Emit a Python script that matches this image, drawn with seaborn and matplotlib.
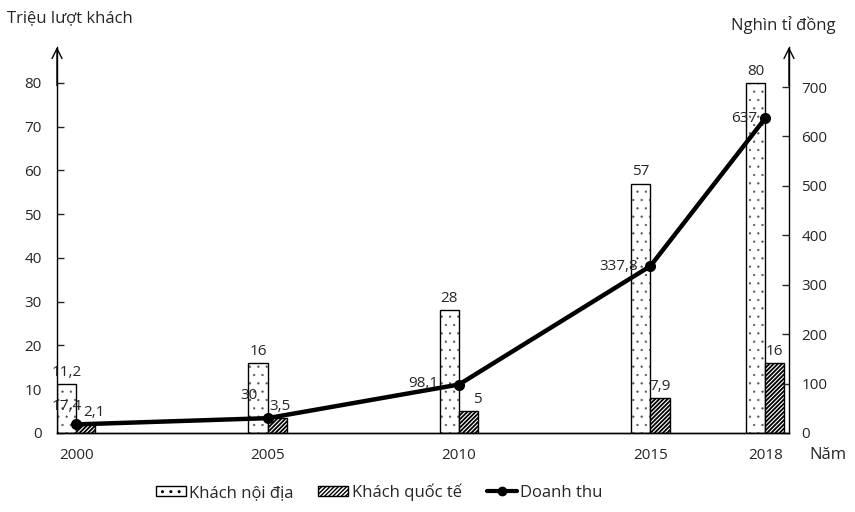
import numpy as np
import pandas as pd
import seaborn as sns
import matplotlib
matplotlib.use('Agg')
import matplotlib.pyplot as plt
from matplotlib.patches import Patch
from matplotlib.lines import Line2D

# data
years = [2000, 2005, 2010, 2015, 2018]
khach_noi_dia = [11.2, 16, 28, 57, 80]        # trieu luot khach
khach_quoc_te = [2.1, 3.5, 5, 7.9, 16]        # trieu luot khach
doanh_thu = [17.4, 30, 98.1, 337.8, 637]       # nghin ti dong

noi_dia_labels = ['11,2', '16', '28', '57', '80']
quoc_te_labels = ['2,1', '3,5', '5', '7,9', '16']
doanh_thu_labels = ['17,4', '30', '98,1', '337,8', '637']

sns.set_style('white')
plt.rcParams['font.family'] = ['Open Sans', 'DejaVu Sans']

fig = plt.figure(figsize=(8.55, 5.12), dpi=100)
ax = fig.add_axes([57/855, 1 - 433/512, (789-57)/855, (433-47)/512])
ax2 = ax.twinx()

w = 0.5
x = np.array(years)
# dotted bars: grey dots first, black outline on top
with plt.rc_context({'hatch.linewidth': 0.4}):
    ax.bar(x - w/2, khach_noi_dia, width=w, color='white', edgecolor='#555555',
           hatch='..', linewidth=0, zorder=2)
ax.bar(x - w/2, khach_noi_dia, width=w, fill=False, edgecolor='black',
       linewidth=1.0, zorder=2)
with plt.rc_context({'hatch.linewidth': 1.3}):
    ax.bar(x + w/2, khach_quoc_te, width=w, color='white', edgecolor='black',
           hatch='////////', linewidth=1.0, zorder=2)

for xi, v, s in zip(years, khach_noi_dia, noi_dia_labels):
    ax.annotate(s, (xi - w/2, v), xytext=(0, 3), textcoords='offset points',
                ha='center', va='bottom', fontsize=11)
qt_dx = [6, 2, 6, 0, 0]
for xi, v, s, dx in zip(years, khach_quoc_te, quoc_te_labels, qt_dx):
    ax.annotate(s, (xi + w/2, v), xytext=(dx, 3), textcoords='offset points',
                ha='center', va='bottom', fontsize=11)

df = pd.DataFrame({'year': years, 'doanh_thu': doanh_thu})
sns.lineplot(data=df, x='year', y='doanh_thu', ax=ax2, color='black', linewidth=3.2,
             marker='o', markersize=8, markeredgewidth=0, zorder=3)
dt_offsets = [(4, 13), (-7, 16), (-15, 1), (-9, 0), (-6, 0)]
for xi, v, s, off in zip(years, doanh_thu, doanh_thu_labels, dt_offsets):
    ax2.annotate(s, (xi, v), xytext=off, textcoords='offset points',
                 ha='right', va='center', fontsize=11)

ax.set_xlim(2000 - w, 2018.62)
ax.set_ylim(0, 88.2)
ax2.set_ylim(0, 781)
ax.set_yticks(range(0, 81, 10))
ax2.set_yticks(range(0, 701, 100))
ax.set_xticks(years)
ax.set_xticklabels([str(y) for y in years], fontsize=11)
ax.tick_params(axis='x', length=0, pad=11)
ax.tick_params(axis='y', direction='in', length=5, width=1, pad=11, labelsize=11)
ax2.tick_params(axis='y', direction='in', length=5, width=1, pad=9, labelsize=11)
ax.set_xlabel('')
ax2.set_xlabel('')
ax2.set_ylabel('')

for a in (ax, ax2):
    a.spines['top'].set_visible(False)
    for sp in ('left', 'right', 'bottom'):
        a.spines[sp].set_color('black')
        a.spines[sp].set_linewidth(1.0)
ax2.spines['left'].set_visible(False)
ax.spines['right'].set_visible(False)

# arrows on the top of both value axes
for xf in (0, 1):
    ax.annotate('', xy=(xf, 1.0), xytext=(xf, 0.9), xycoords='axes fraction',
                arrowprops=dict(arrowstyle='->', color='black', lw=1.0,
                                mutation_scale=18, shrinkA=0, shrinkB=0),
                annotation_clip=False)

fig.text(7/855, 1 - 18/512, 'Triệu lượt khách', fontsize=12, ha='left', va='center')
fig.text(783/855, 1 - 25/512, 'Nghìn tỉ đồng', fontsize=12, ha='center', va='center')
fig.text(828/855, 1 - 455/512, 'Năm', fontsize=12, ha='center', va='center')

with plt.rc_context({'hatch.linewidth': 0.4}):
    h1 = Patch(facecolor='white', edgecolor='black', hatch='..')
with plt.rc_context({'hatch.linewidth': 1.3}):
    h2 = Patch(facecolor='white', edgecolor='black', hatch='////////')
h3 = Line2D([0], [0], color='black', lw=3, marker='o', markersize=6)
fig.legend([h1, h2, h3], ['Khách nội địa', 'Khách quốc tế', 'Doanh thu'],
           loc='center', bbox_to_anchor=(379/855, 1 - 492/512), ncol=3, frameon=False,
           fontsize=12, handlelength=1.8, handleheight=0.6, handletextpad=0.2,
           columnspacing=1.5)

fig.savefig('out.png', dpi=100)
